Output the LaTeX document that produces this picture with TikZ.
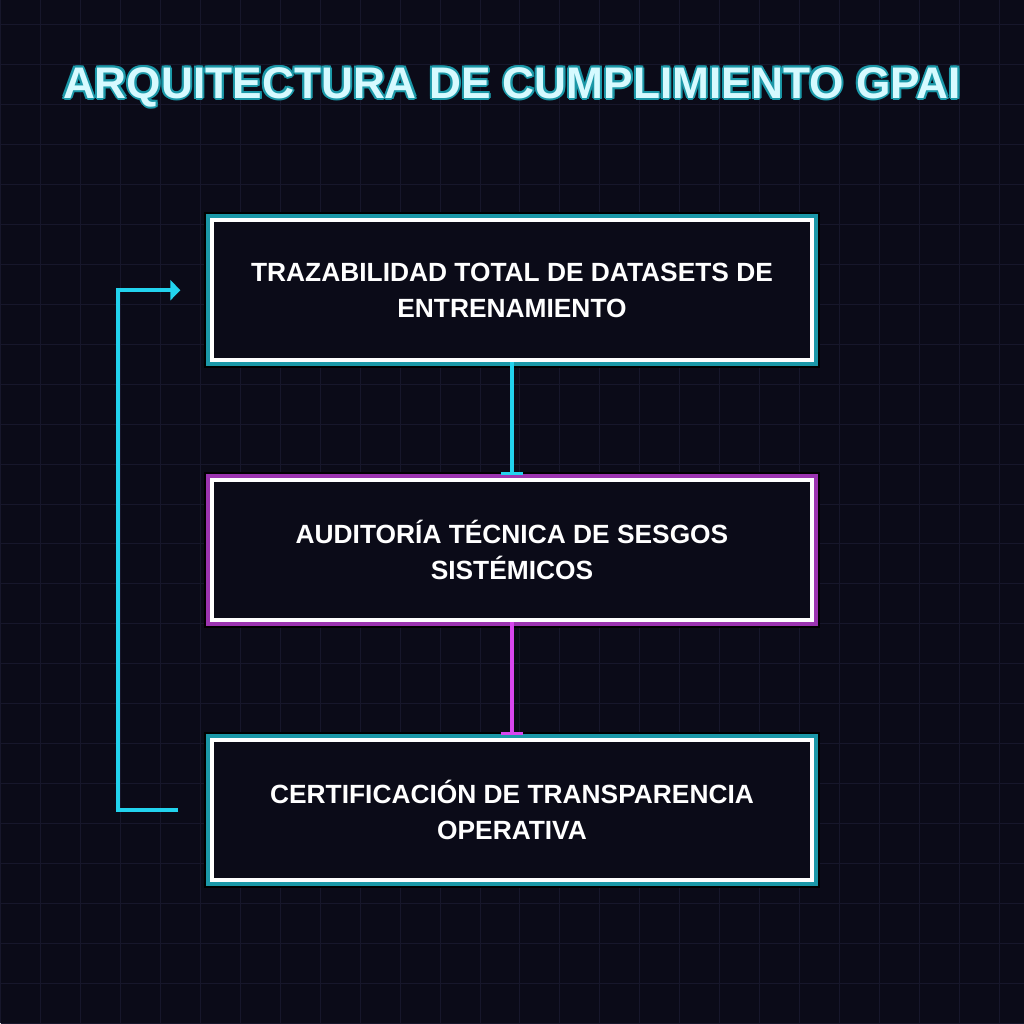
\documentclass[tikz,border=0pt]{standalone}
\usepackage{fontspec}
\setmainfont{Liberation Sans}
\usetikzlibrary{arrows.meta,positioning}
\definecolor{bgc}{HTML}{0B0B18}
\definecolor{gridc}{HTML}{17172B}
\definecolor{cyanc}{HTML}{22D3EE}
\definecolor{magc}{HTML}{D946EF}
\definecolor{tealglow}{HTML}{1B98A8}
\definecolor{magglow}{HTML}{9C34B0}
\definecolor{titlec}{HTML}{D6FAFF}
\tikzstyle{stage}=[rectangle,fill=bgc,draw=white,line width=0.04cm,minimum width=6cm,minimum height=1.4cm,inner sep=0pt,
  text=white,font=\bfseries\fontsize{7.5}{10.2}\selectfont,align=center]
\tikzstyle{tealbox}=[stage,preaction={draw=black,line width=0.16cm},preaction={draw=tealglow,line width=0.12cm}]
\tikzstyle{magbox}=[stage,preaction={draw=black,line width=0.16cm},preaction={draw=magglow,line width=0.12cm}]
\tikzstyle{link} = [draw,line width=0.04cm,-{Bar[width=0.22cm,line width=0.03cm]}]

\begin{document}
\begin{tikzpicture}
    \fill[bgc] (0,0) rectangle (10.24,10.24);
    \draw[gridc,line width=0.01cm,step=0.4] (0,0) grid (10.24,10.24);

    % title with glow
    \foreach \dx/\dy in {-0.02/0,0.02/0,0/0.02,0/-0.02,-0.015/0.015,0.015/0.015,-0.015/-0.015,0.015/-0.015}
        \node[text=tealglow,font=\bfseries\fontsize{12.6}{14}\selectfont] at (5.12+\dx,9.37+\dy) {ARQUITECTURA DE CUMPLIMIENTO GPAI};
    \node[text=titlec,font=\bfseries\fontsize{12.6}{14}\selectfont] (title) at (5.12,9.37) {ARQUITECTURA DE CUMPLIMIENTO GPAI};

    \node[tealbox] (trace) at (5.12,7.34) {TRAZABILIDAD TOTAL DE DATASETS DE\\ENTRENAMIENTO};
    \node[magbox] (audit) at (5.12,4.74) {AUDITORÍA TÉCNICA DE SESGOS\\SISTÉMICOS};
    \node[tealbox] (cert) at (5.12,2.14) {CERTIFICACIÓN DE TRANSPARENCIA\\OPERATIVA};

    \coordinate (back) at ([xshift=-0.32cm]cert.west);
    \coordinate (into) at ([xshift=-0.3cm,yshift=0cm]trace.west);

    \path[link,cyanc] (trace.south) -- ([yshift=0.03cm]audit.north);
    \path[link,magc] (audit.south) -- ([yshift=0.03cm]cert.north);
    \draw[cyanc,line width=0.04cm,-{Triangle[width=0.2cm,length=0.1cm]}] (back) -- ++(-0.6,0) |- (into);

    \useasboundingbox (0,0) rectangle (10.24,10.24);
\end{tikzpicture}
\end{document}
